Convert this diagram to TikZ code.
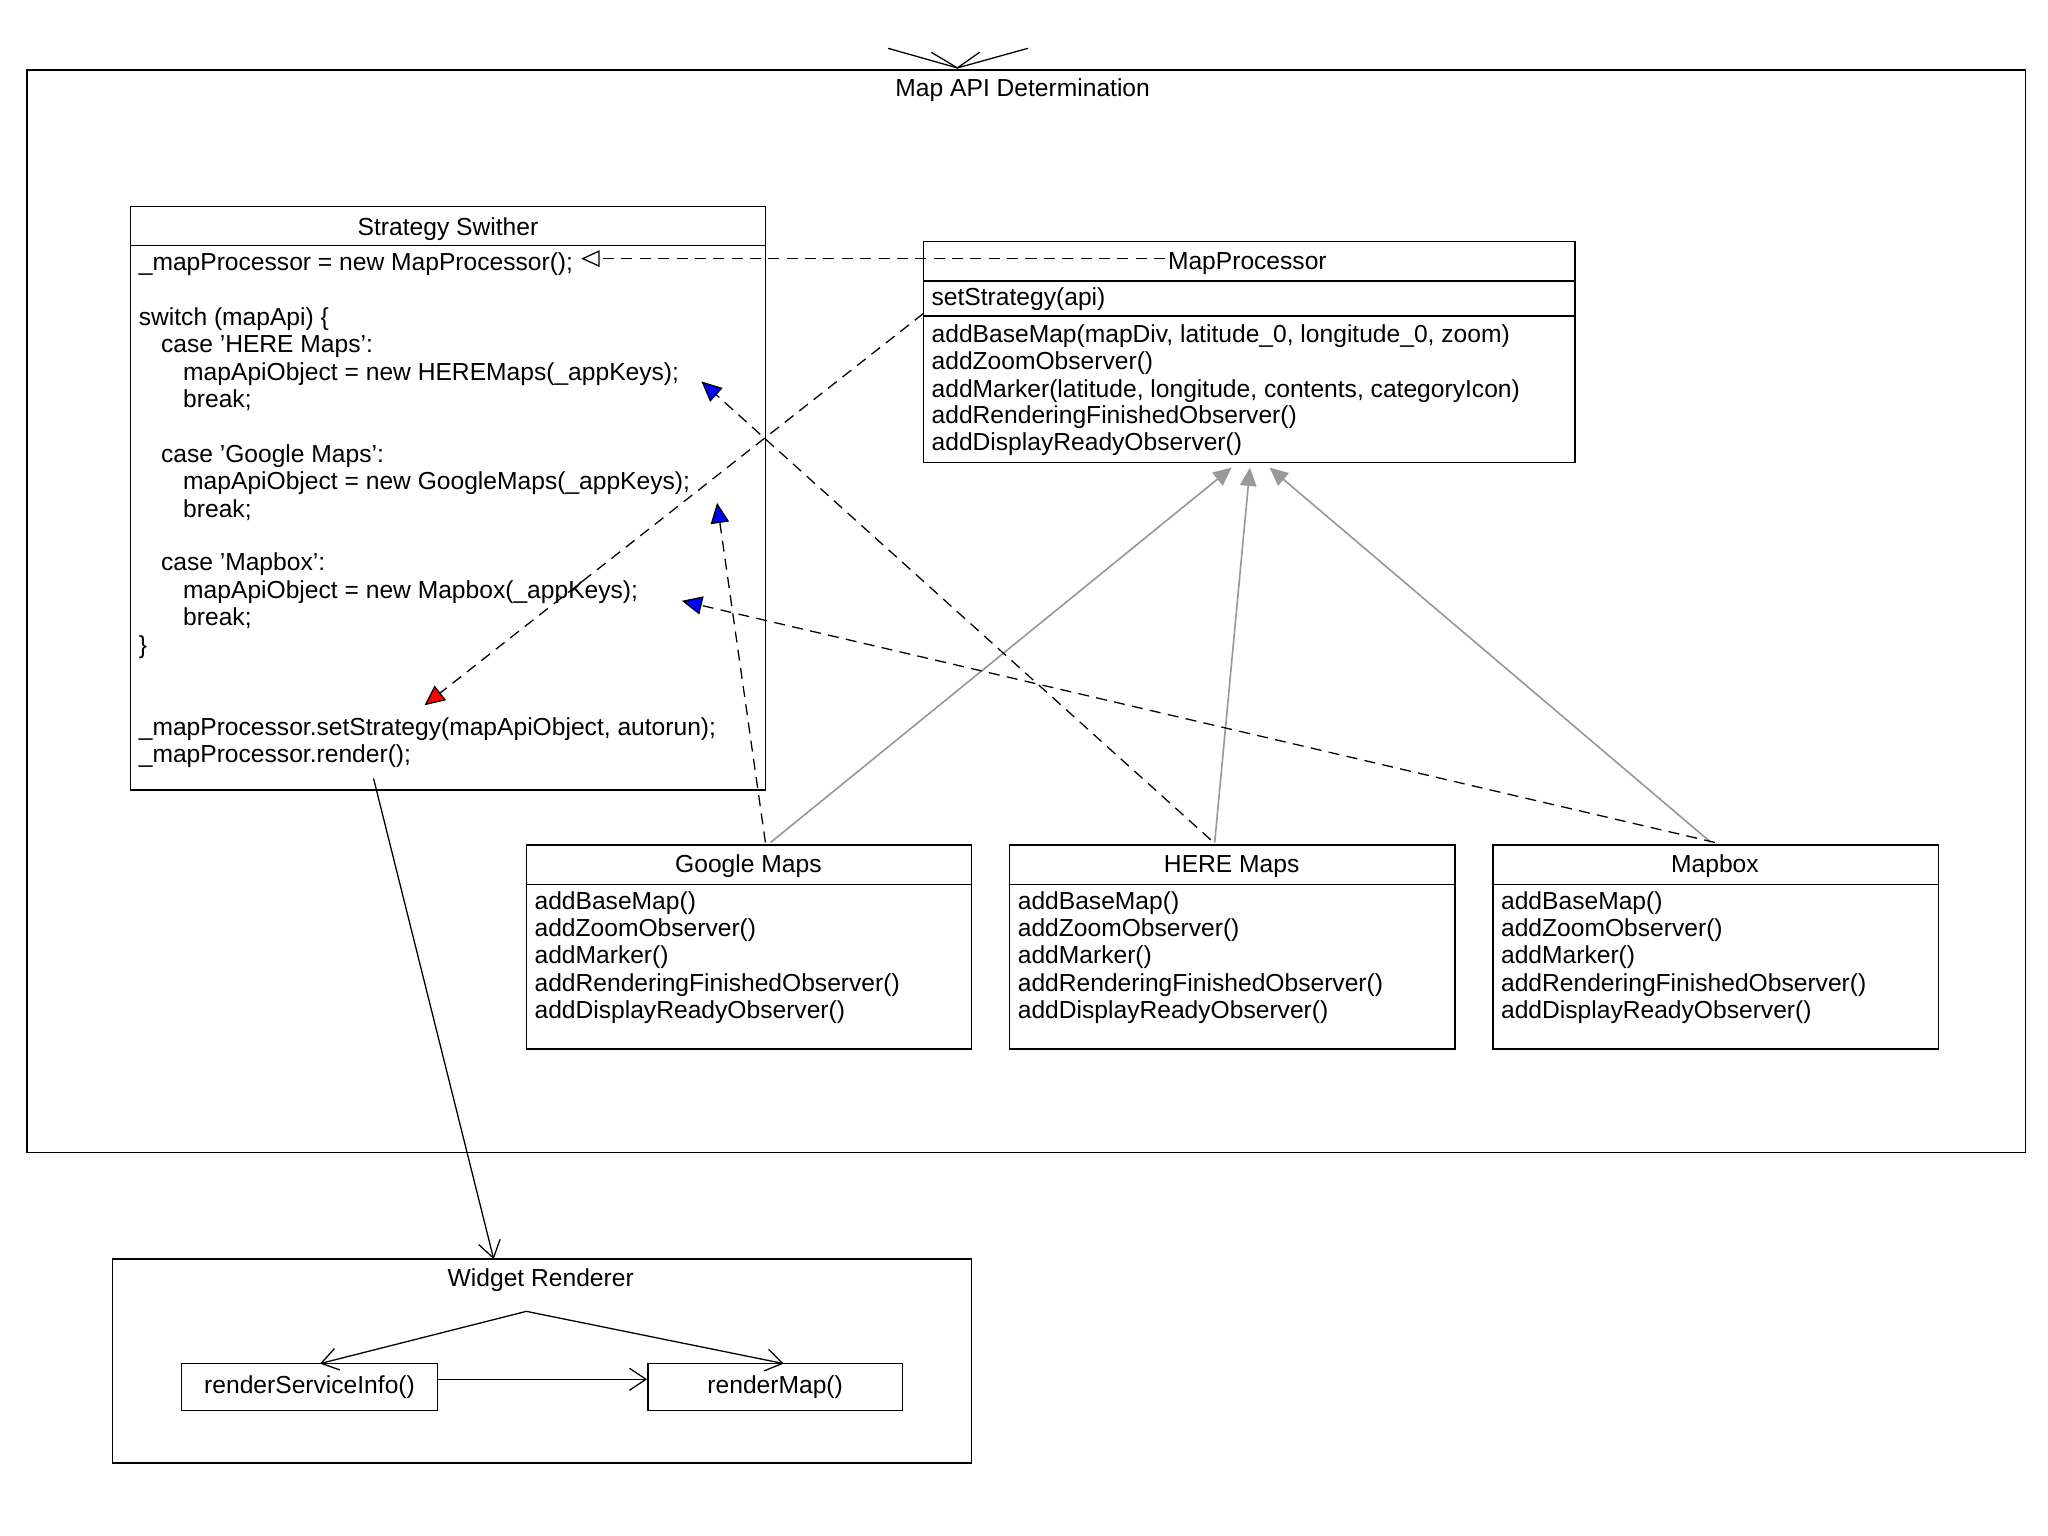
\documentclass[tikz,border=0pt]{standalone}
\usepackage{fontspec}
\setmainfont{Liberation Sans}
\usetikzlibrary{arrows.meta}
\begin{document}
\begin{tikzpicture}[x=0.025cm,y=-0.025cm,
  box/.style={draw,line width=0.8pt},
  t/.style={anchor=base west,inner sep=0,font=\fontsize{13.4}{15}\selectfont},
  tc/.style={anchor=base,inner sep=0,font=\fontsize{13.4}{15}\selectfont},
  dep/.style={dashed,dash pattern=on 6pt off 4pt,line width=0.7pt},
  gen/.style={draw=gray!80,line width=0.9pt,-{Triangle[length=10pt,width=9pt,fill=gray!80]}},
  open/.style={-{Straight Barb[length=9pt,width=12pt]},line width=0.7pt}]
\useasboundingbox (0,0) rectangle (1568,1176);
% outer frame
\node[box,minimum width=1530*0.025cm,minimum height=829*0.025cm,anchor=north west,inner sep=0] (frame) at (20,53) {};
\node[tc] (ftitle) at (783,74) {Map API Determination};
\coordinate (tip) at (733,52);
\coordinate (ta) at (680,37);
\coordinate (tb) at (787,37);
\draw[line width=0.7pt] (ta) -- (tip) -- (tb);
\draw[line width=0.7pt] (713,40) -- (tip) -- (750,40);
% Strategy box
\draw[box] (100,158) rectangle (586,605);
\draw[box] (100,188) -- (586,188);
\node[tc] (stitle) at (343,180) {Strategy Swither};
\foreach \y/\x/\s in {207/106/{\_mapProcessor = new MapProcessor();},249/106/{switch (mapApi) \{},270/123/{case 'HERE Maps':},291/140/{mapApiObject = new HEREMaps(\_appKeys);},312/140/{break;},354/123/{case 'Google Maps':},375/140/{mapApiObject = new GoogleMaps(\_appKeys);},396/140/{break;},437/123/{case 'Mapbox':},458/140/{mapApiObject = new Mapbox(\_appKeys);},479/140/{break;},500/106/{\}},563/106/{\_mapProcessor.setStrategy(mapApiObject, autorun);},584/106/{\_mapProcessor.render();}}
  \node[t] at (\x,\y) {\s};
\coordinate (sOut) at (286,596);
% MapProcessor
\draw[box] (707,185) rectangle (1206,354);
\draw[box] (707,215) -- (1206,215) (707,242) -- (1206,242);
\node[tc] (mtitle) at (955,206) {MapProcessor};
\node[t] at (713,234) {setStrategy(api)};
\foreach \y/\s in {262/{addBaseMap(mapDiv, latitude\_0, longitude\_0, zoom)},283/{addZoomObserver()},304/{addMarker(latitude, longitude, contents, categoryIcon)},324/{addRenderingFinishedObserver()},345/{addDisplayReadyObserver()}}
  \node[t] at (713,\y) {\s};
% classes
\foreach \x/\n in {403/Google Maps,773/HERE Maps,1143/Mapbox}{
  \draw[box] (\x,647) rectangle (\x+341,803);
  \draw[box] (\x,677) -- (\x+341,677);
  \node[tc] at (\x+170,668) {\n};
  \foreach \y/\s in {696/{addBaseMap()},717/{addZoomObserver()},738/{addMarker()},759/{addRenderingFinishedObserver()},780/{addDisplayReadyObserver()}}
    \node[t] at (\x+6,\y) {\s};
}
% generalization (gray)
\draw[gen] (590,645) -- (943,358);
\draw[gen] (930,645) -- (957,358);
\draw[gen] (1310,645) -- (972,358);
% dashed
\draw[dep,-{Triangle[open,length=10pt,width=9pt]}] (892,198) -- (445,198);
\draw[dep,-{Triangle[length=11pt,width=10pt,fill=red]}] (707,240) -- (325,540);
\draw[dep,-{Triangle[length=11pt,width=10pt,fill=blue]}] (927,643) -- (537,292);
\draw[dep,-{Triangle[length=11pt,width=10pt,fill=blue]}] (586,645) -- (549,385);
\draw[dep,-{Triangle[length=11pt,width=10pt,fill=blue]}] (1313,645) -- (522,460);
% widget renderer
\draw[box] (86,964) rectangle (744,1120);
\node[tc] (wtitle) at (414,985) {Widget Renderer};
\node[box,minimum width=196*0.025cm,minimum height=36*0.025cm,inner sep=0,font=\fontsize{13.4}{15}\selectfont] (rsi) at (237,1062) {renderServiceInfo()};
\node[box,minimum width=195*0.025cm,minimum height=36*0.025cm,inner sep=0,font=\fontsize{13.4}{15}\selectfont] (rm) at (593.5,1062) {renderMap()};
\coordinate (wtop) at (403,1004);
\draw[open] (wtop) -- (245,1044);
\draw[open] (wtop) -- (600,1044);
\draw[open] (rsi.east |- 0,1056) -- (rm.west |- 0,1056);
\draw[open] (sOut) -- (378,964);
\end{tikzpicture}
\end{document}
